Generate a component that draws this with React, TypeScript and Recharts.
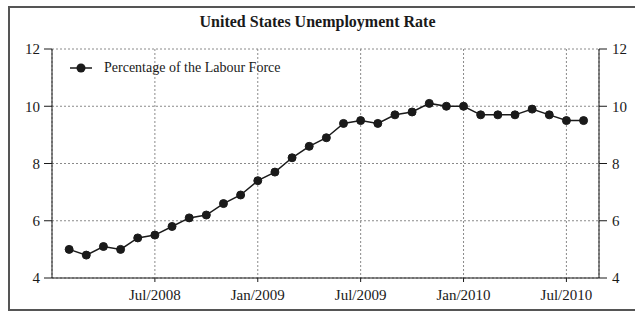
import { LineChart, Line, XAxis, YAxis, CartesianGrid, Legend } from "recharts";

const months = [
  "Feb/2008", "Mar/2008", "Apr/2008", "May/2008", "Jun/2008", "Jul/2008",
  "Aug/2008", "Sep/2008", "Oct/2008", "Nov/2008", "Dec/2008", "Jan/2009",
  "Feb/2009", "Mar/2009", "Apr/2009", "May/2009", "Jun/2009", "Jul/2009",
  "Aug/2009", "Sep/2009", "Oct/2009", "Nov/2009", "Dec/2009", "Jan/2010",
  "Feb/2010", "Mar/2010", "Apr/2010", "May/2010", "Jun/2010", "Jul/2010",
  "Aug/2010",
];

const rates = [
  5.0, 4.8, 5.1, 5.0, 5.4, 5.5,
  5.8, 6.1, 6.2, 6.6, 6.9, 7.4,
  7.7, 8.2, 8.6, 8.9, 9.4, 9.5,
  9.4, 9.7, 9.8, 10.1, 10.0, 10.0,
  9.7, 9.7, 9.7, 9.9, 9.7, 9.5,
  9.5,
];

// positions in months[] that carry a label on the x axis
const xTicks = [5, 11, 17, 23, 29];
const yTicks = [4, 6, 8, 10, 12];

const data = months.map((month, i) => ({ idx: i, month, rate: rates[i] }));

const FONT = "'Liberation Serif', 'Times New Roman', serif";
const INK = "#1a1a1a";
const tickStyle = { fontFamily: FONT, fontSize: 15, fill: INK };

function LegendContent() {
  return (
    <div style={{ display: "flex", alignItems: "center", fontFamily: FONT, fontSize: 14, lineHeight: "16px", color: INK }}>
      <svg width={22} height={16} style={{ marginRight: 12 }}>
        <line x1={0} y1={8} x2={22} y2={8} stroke={INK} strokeWidth={1.5} />
        <circle cx={11} cy={8} r={4.5} fill={INK} />
      </svg>
      <span>Percentage of the Labour Force</span>
    </div>
  );
}

export default function App() {
  return (
    // absolutely placed so the page never grows a scrollbar (the frame runs past the right edge)
    <div
      style={{
        position: "absolute",
        top: 6,
        left: 8,
        width: 625,
        height: 301,
        borderTop: "2px solid #555",
        borderLeft: "2px solid #555",
        borderBottom: "2px solid #555",
        fontFamily: FONT,
        overflow: "hidden",
      }}
    >
      <div
        style={{
          position: "absolute",
          top: 6,
          left: 0,
          width: 615,
          textAlign: "center",
          fontSize: 16,
          lineHeight: "16px",
          fontWeight: "bold",
          color: INK,
        }}
      >
        United States Unemployment Rate
      </div>
      <LineChart width={625} height={301} data={data} margin={{ top: 41, right: 0, bottom: 0, left: 0 }}>
        <CartesianGrid yAxisId="left" stroke="#8a8a8a" strokeDasharray="2 2" />
        <XAxis
          dataKey="idx"
          type="number"
          domain={[-1, 30.9]}
          ticks={xTicks}
          allowDataOverflow
          tickFormatter={(v: number) => months[v]}
          height={31}
          tickSize={4}
          tickMargin={7}
          stroke={INK}
          tick={tickStyle}
        />
        <YAxis
          yAxisId="left"
          domain={[4, 12]}
          ticks={yTicks}
          allowDataOverflow
          width={42}
          tickSize={8}
          tickMargin={4}
          stroke={INK}
          tick={tickStyle}
        />
        {/* mirror scale on the right; nothing is plotted against it */}
        <YAxis
          yAxisId="right"
          orientation="right"
          type="number"
          domain={[4, 12]}
          ticks={yTicks}
          allowDataOverflow
          width={36}
          tickSize={8}
          tickMargin={5}
          stroke={INK}
          tick={tickStyle}
        />
        <Legend
          layout="horizontal"
          verticalAlign="middle"
          align="center"
          content={<LegendContent />}
          wrapperStyle={{ top: 52, left: 60, width: "auto" }}
        />
        <Line
          yAxisId="left"
          dataKey="rate"
          name="Percentage of the Labour Force"
          stroke={INK}
          strokeWidth={1.5}
          dot={{ r: 4, fill: INK, stroke: INK, strokeWidth: 1 }}
          isAnimationActive={false}
        />
      </LineChart>
    </div>
  );
}
